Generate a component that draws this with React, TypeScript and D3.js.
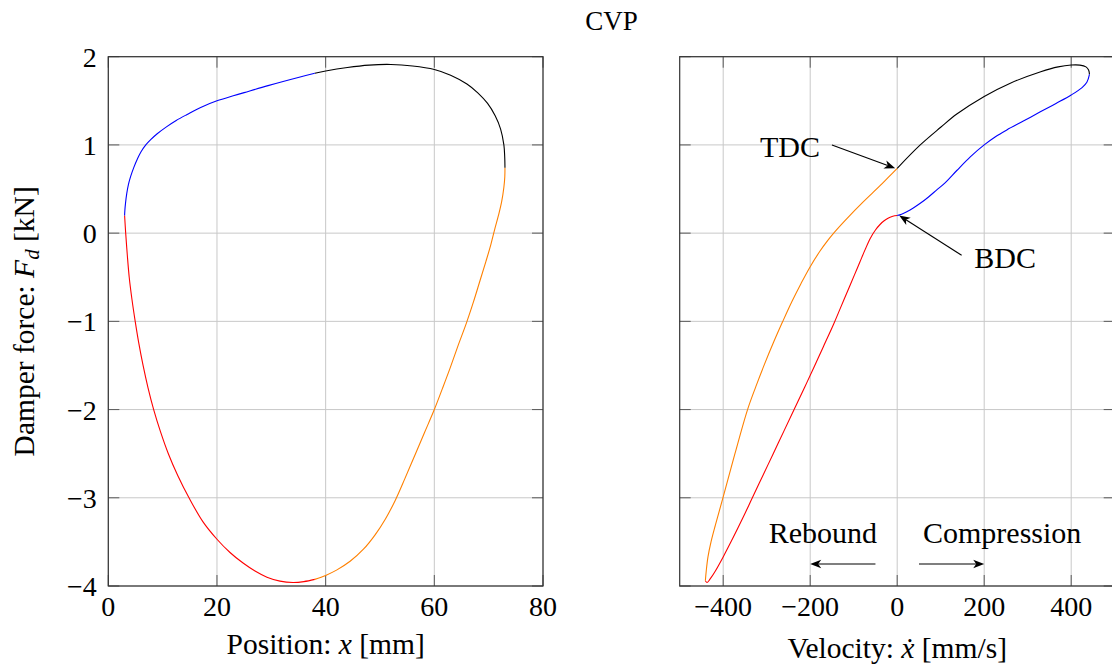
import React from "react";
import * as d3 from "d3";

// Damper force vs. position, one colour per quarter of the stroke cycle
const posRed: [number, number][] = [
  [3.0, 0.2], [3.2, 0.0], [3.5, -0.25], [3.85, -0.5], [4.35, -0.75], [4.95, -1.0],
  [5.62, -1.25], [6.4, -1.5], [7.3, -1.75], [8.35, -2.0], [9.6, -2.25], [11.05, -2.5],
  [12.8, -2.75], [14.85, -3.0], [17.4, -3.27], [20.0, -3.47], [22.4, -3.62], [24.8, -3.74],
  [27.0, -3.83], [29.2, -3.9], [31.6, -3.945], [34.0, -3.96], [36.0, -3.95], [38.0, -3.925],
];
const posOrange: [number, number][] = [
  [38.0, -3.925], [40.0, -3.88], [42.0, -3.82], [44.5, -3.72], [47.0, -3.58],
  [49.1, -3.42], [51.0, -3.24], [52.8, -3.03], [54.6, -2.78], [56.4, -2.52],
  [58.2, -2.26], [60.0, -2.0], [61.5, -1.76], [62.9, -1.53], [64.4, -1.27],
  [65.9, -1.02], [67.2, -0.78], [68.4, -0.54], [69.5, -0.32], [70.4, -0.13],
  [71.1, 0.04], [71.8, 0.2], [72.4, 0.36], [72.8, 0.52], [72.97, 0.64], [73.0, 0.74],
];
const posBlack: [number, number][] = [
  [73.0, 0.74], [72.95, 0.87], [72.8, 1.0], [72.2, 1.18], [71.2, 1.33], [69.8, 1.47],
  [68.0, 1.59], [66.0, 1.69], [63.0, 1.79], [60.0, 1.855], [56.0, 1.895], [52.0, 1.912],
  [48.0, 1.905], [44.0, 1.878], [40.0, 1.838], [38.0, 1.812],
];
const posBlue: [number, number][] = [
  [38.0, 1.812], [35.3, 1.77], [29.4, 1.672], [25.0, 1.593], [23.0, 1.557], [20.0, 1.5],
  [17.0, 1.425], [14.5, 1.345], [12.5, 1.277], [10.7, 1.205], [9.0, 1.127], [7.8, 1.06],
  [6.9, 1.0], [6.0, 0.92], [5.35, 0.84], [4.7, 0.745], [4.1, 0.64], [3.7, 0.55],
  [3.4, 0.45], [3.17, 0.34], [3.05, 0.26], [3.0, 0.2],
];

// Damper force vs. velocity, same quarters
const velRed: [number, number][] = [
  [0, 0.2], [-10, 0.192], [-20, 0.172], [-30, 0.14], [-40, 0.095], [-50, 0.035],
  [-62, -0.06], [-74, -0.19], [-86, -0.33], [-98, -0.47], [-110, -0.61], [-122, -0.75],
  [-134, -0.89], [-146, -1.03], [-170, -1.29], [-190, -1.505], [-213, -1.75],
  [-237, -2.0], [-261, -2.25], [-285, -2.5], [-309, -2.75], [-333, -3.0], [-355, -3.23],
  [-378, -3.46], [-400, -3.67], [-418, -3.83], [-430, -3.92], [-437, -3.96], [-441, -3.94],
];
const velOrange: [number, number][] = [
  [-441, -3.94], [-439, -3.83], [-435, -3.67], [-428, -3.5], [-418, -3.31],
  [-400, -2.99], [-373, -2.5], [-344, -2.0], [-325, -1.74], [-305, -1.485],
  [-284, -1.235], [-263, -1.0], [-242, -0.775], [-221, -0.57], [-200, -0.38],
  [-177, -0.2], [-160, -0.085], [-146, 0.0], [-127, 0.105], [-108, 0.205],
  [-85, 0.32], [-62, 0.43], [-40, 0.535], [-20, 0.635], [0, 0.735],
];
const velBlack: [number, number][] = [
  [0, 0.735], [53, 1.0], [100, 1.2], [137, 1.35], [200, 1.55], [260, 1.7],
  [330, 1.83], [370, 1.885], [400, 1.906], [420, 1.905], [434, 1.885],
  [440, 1.85], [442, 1.8],
];
const velBlue: [number, number][] = [
  [442, 1.8], [436, 1.71], [425, 1.65], [400, 1.566], [365, 1.47], [329, 1.375],
  [290, 1.27], [252, 1.17], [225, 1.09], [200, 1.0], [168, 0.865], [137, 0.71],
  [110, 0.57], [91, 0.49], [72, 0.41], [53, 0.338], [37, 0.285], [22, 0.243],
  [10, 0.215], [0, 0.2],
];

const segments = [
  { pos: posRed, vel: velRed, color: "#ff0000" },
  { pos: posOrange, vel: velOrange, color: "#ff8000" },
  { pos: posBlack, vel: velBlack, color: "#000000" },
  { pos: posBlue, vel: velBlue, color: "#0000ff" },
];

const posTicks = [0, 20, 40, 60, 80];
const velTicks = [-400, -200, 0, 200, 400];
const forceTicks = [-4, -3, -2, -1, 0, 1, 2];

const tdcPoint: [number, number] = [0, 0.735];
const bdcPoint: [number, number] = [0, 0.2];

const W = 1112;
const H = 668;
const TOP = 56.7;
const BOTTOM = 586;
const xPos = d3.scaleLinear().domain([0, 80]).range([108.3, 543]);
const xVel = d3.scaleLinear().domain([-500, 500]).range([679.7, 1114.7]);
const yF = d3.scaleLinear().domain([-4, 2]).range([BOTTOM, TOP]);

const labelFont = "'Liberation Serif', 'Times New Roman', serif";
const TICK = 11;
const GRID = "#c8c8c8";
const TICKC = "#5a5a5a";
const FRAME = "#333333";

const fmt = (v: number) => (v < 0 ? "\u2212" + Math.abs(v) : String(v));

function arrowHead(x1: number, y1: number, x2: number, y2: number) {
  const a = Math.atan2(y2 - y1, x2 - x1);
  const len = 11;
  const hw = 4.2;
  const notch = 3;
  const ux = Math.cos(a), uy = Math.sin(a);
  const px = -uy, py = ux;
  const bx = x2 - ux * len, by = y2 - uy * len;
  const nx = x2 - ux * (len - notch), ny = y2 - uy * (len - notch);
  return `M${x2},${y2} L${bx + px * hw},${by + py * hw} L${nx},${ny} L${bx - px * hw},${by - py * hw} Z`;
}

function Arrow({ x1, y1, x2, y2 }: { x1: number; y1: number; x2: number; y2: number }) {
  const a = Math.atan2(y2 - y1, x2 - x1);
  const ex = x2 - Math.cos(a) * 8;
  const ey = y2 - Math.sin(a) * 8;
  return (
    <g>
      <line x1={x1} y1={y1} x2={ex} y2={ey} stroke="#000" strokeWidth={1.1} />
      <path d={arrowHead(x1, y1, x2, y2)} fill="#000" />
    </g>
  );
}

function Panel({
  x,
  ticks,
  which,
  showY,
}: {
  x: d3.ScaleLinear<number, number>;
  ticks: number[];
  which: "pos" | "vel";
  showY: boolean;
}) {
  const [L, R] = x.range();
  const line = d3
    .line<[number, number]>()
    .x((d) => x(d[0]))
    .y((d) => yF(d[1]))
    .curve(d3.curveCatmullRom.alpha(0.5));
  return (
    <g>
      {/* grid */}
      {ticks.map((t) => (
        <line key={"gx" + t} x1={x(t)} x2={x(t)} y1={TOP} y2={BOTTOM} stroke={GRID} strokeWidth={1} />
      ))}
      {forceTicks.map((t) => (
        <line key={"gy" + t} x1={L} x2={R} y1={yF(t)} y2={yF(t)} stroke={GRID} strokeWidth={1} />
      ))}
      {/* tick marks on all four sides */}
      {ticks.map((t) => (
        <g key={"tx" + t}>
          <line x1={x(t)} x2={x(t)} y1={BOTTOM} y2={BOTTOM - TICK} stroke={TICKC} strokeWidth={1} />
          <line x1={x(t)} x2={x(t)} y1={TOP} y2={TOP + TICK} stroke={TICKC} strokeWidth={1} />
        </g>
      ))}
      {forceTicks.map((t) => (
        <g key={"ty" + t}>
          <line x1={L} x2={L + TICK} y1={yF(t)} y2={yF(t)} stroke={TICKC} strokeWidth={1} />
          <line x1={R} x2={R - TICK} y1={yF(t)} y2={yF(t)} stroke={TICKC} strokeWidth={1} />
        </g>
      ))}
      {/* curves */}
      {segments.map((s, i) => (
        <path key={i} d={line(s[which]) || ""} fill="none" stroke={s.color} strokeWidth={1.1} />
      ))}
      {/* frame */}
      <rect x={L} y={TOP} width={R - L} height={BOTTOM - TOP} fill="none" stroke={FRAME} strokeWidth={1.2} />
      {/* tick labels */}
      {ticks.map((t) => (
        <text key={"lx" + t} x={x(t)} y={615.5} textAnchor="middle" fontSize={28} fontFamily={labelFont}>
          {fmt(t)}
        </text>
      ))}
      {showY &&
        forceTicks.map((t) => (
          <text key={"ly" + t} x={L - 11.6} y={yF(t) + 10} textAnchor="end" fontSize={28} fontFamily={labelFont}>
            {fmt(t)}
          </text>
        ))}
    </g>
  );
}

export default function App() {
  const tdc = [xVel(tdcPoint[0]), yF(tdcPoint[1])];
  const bdc = [xVel(bdcPoint[0]), yF(bdcPoint[1])];
  return (
    <svg
      width={W}
      height={H}
      viewBox={`0 0 ${W} ${H}`}
      style={{ position: "absolute", left: 0, top: 0, display: "block", background: "#fff", overflow: "hidden" }}
    >
      <rect x={0} y={0} width={W} height={H} fill="#fff" />
      <text x={611.5} y={30} textAnchor="middle" fontSize={27} fontFamily={labelFont}>
        CVP
      </text>

      <Panel x={xPos} ticks={posTicks} which="pos" showY={true} />
      <Panel x={xVel} ticks={velTicks} which="vel" showY={false} />

      {/* axis titles */}
      <text x={325.7} y={654} textAnchor="middle" fontSize={29.5} fontFamily={labelFont}>
        Position: <tspan fontStyle="italic">x</tspan> [mm]
      </text>
      <text x={897.2} y={658} textAnchor="middle" fontSize={29.5} fontFamily={labelFont}>
        Velocity: <tspan fontStyle="italic">{"\u1E8B"}</tspan> [mm/s]
      </text>
      <text
        transform={`translate(34, ${(TOP + BOTTOM) / 2}) rotate(-90)`}
        textAnchor="middle"
        fontSize={29.5}
        fontFamily={labelFont}
      >
        Damper force: <tspan fontStyle="italic">F</tspan>
        <tspan fontStyle="italic" fontSize={21} dy={5}>d</tspan>
        <tspan dy={-5}> [kN]</tspan>
      </text>

      {/* dead-centre annotations */}
      <text x={820} y={156.7} textAnchor="end" fontSize={30} fontFamily={labelFont}>
        TDC
      </text>
      <Arrow x1={xVel(-150)} y1={yF(1.0)} x2={tdc[0] - 2} y2={tdc[1]} />
      <text x={974.3} y={268.3} textAnchor="start" fontSize={30} fontFamily={labelFont}>
        BDC
      </text>
      <Arrow x1={xVel(148)} y1={yF(-0.25)} x2={bdc[0] + 2} y2={bdc[1]} />

      {/* stroke direction */}
      <text x={877} y={543.3} textAnchor="end" fontSize={30} fontFamily={labelFont}>
        Rebound
      </text>
      <Arrow x1={xVel(-50)} y1={yF(-3.75)} x2={xVel(-200)} y2={yF(-3.75)} />
      <text x={923} y={543.3} textAnchor="start" fontSize={30} fontFamily={labelFont}>
        Compression
      </text>
      <Arrow x1={xVel(50)} y1={yF(-3.75)} x2={xVel(200)} y2={yF(-3.75)} />
    </svg>
  );
}
